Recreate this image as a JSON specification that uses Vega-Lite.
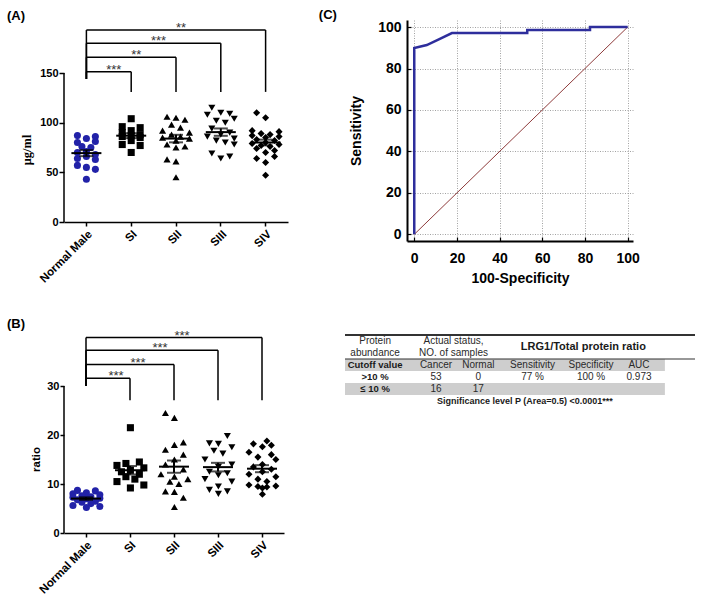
{
  "$schema": "https://vega.github.io/schema/vega-lite/v6.json",
  "padding": {"left": 7, "top": 9, "right": 4, "bottom": 4},
  "background": "white",
  "config": {
    "view": {"stroke": null},
    "font": "Liberation Sans",
    "axis": {"labelColor": "black", "tickColor": "black", "domainColor": "black", "labelFont": "Liberation Sans", "titleFont": "Liberation Sans", "titleColor": "black", "domainWidth": 1.5, "tickWidth": 1.5, "grid": false}
  },
  "datasets": {
    "A": [
      {"g": "Normal Male", "v": 87, "s": -2}, {"g": "Normal Male", "v": 86, "s": 2}, {"g": "Normal Male", "v": 84, "s": 0}, {"g": "Normal Male", "v": 81, "s": 2}, {"g": "Normal Male", "v": 80, "s": -2}, {"g": "Normal Male", "v": 76, "s": -1}, {"g": "Normal Male", "v": 75, "s": 1}, {"g": "Normal Male", "v": 71, "s": 0}, {"g": "Normal Male", "v": 70, "s": -2}, {"g": "Normal Male", "v": 68, "s": 2}, {"g": "Normal Male", "v": 66, "s": 0}, {"g": "Normal Male", "v": 64, "s": -2}, {"g": "Normal Male", "v": 63, "s": 2}, {"g": "Normal Male", "v": 57, "s": -2}, {"g": "Normal Male", "v": 55, "s": 0}, {"g": "Normal Male", "v": 53, "s": 2}, {"g": "Normal Male", "v": 43, "s": 0},
      {"g": "SI", "v": 104, "s": 0}, {"g": "SI", "v": 96, "s": -2}, {"g": "SI", "v": 95, "s": 2}, {"g": "SI", "v": 92, "s": 0}, {"g": "SI", "v": 90, "s": -2}, {"g": "SI", "v": 88, "s": 2}, {"g": "SI", "v": 87, "s": 0}, {"g": "SI", "v": 86, "s": -2}, {"g": "SI", "v": 85, "s": 2}, {"g": "SI", "v": 82, "s": 0}, {"g": "SI", "v": 78, "s": -2}, {"g": "SI", "v": 77, "s": 2}, {"g": "SI", "v": 70, "s": 0},
      {"g": "SII", "v": 106, "s": -2}, {"g": "SII", "v": 105, "s": 0}, {"g": "SII", "v": 103, "s": 2}, {"g": "SII", "v": 98, "s": -1}, {"g": "SII", "v": 95, "s": 1}, {"g": "SII", "v": 92, "s": -3}, {"g": "SII", "v": 90, "s": 3}, {"g": "SII", "v": 88, "s": -1}, {"g": "SII", "v": 86, "s": 1}, {"g": "SII", "v": 85, "s": -3}, {"g": "SII", "v": 84, "s": 3}, {"g": "SII", "v": 82, "s": 0}, {"g": "SII", "v": 78, "s": -2}, {"g": "SII", "v": 76, "s": 2}, {"g": "SII", "v": 75, "s": 0}, {"g": "SII", "v": 63, "s": -2}, {"g": "SII", "v": 61, "s": 0}, {"g": "SII", "v": 45, "s": 0},
      {"g": "SIII", "v": 115, "s": -2}, {"g": "SIII", "v": 110, "s": 0}, {"g": "SIII", "v": 109, "s": 2}, {"g": "SIII", "v": 108, "s": -3}, {"g": "SIII", "v": 104, "s": 3}, {"g": "SIII", "v": 102, "s": -1}, {"g": "SIII", "v": 100, "s": 1}, {"g": "SIII", "v": 94, "s": -2}, {"g": "SIII", "v": 90, "s": 2}, {"g": "SIII", "v": 88, "s": 0}, {"g": "SIII", "v": 86, "s": -3}, {"g": "SIII", "v": 84, "s": 3}, {"g": "SIII", "v": 82, "s": -1}, {"g": "SIII", "v": 80, "s": 1}, {"g": "SIII", "v": 78, "s": 3}, {"g": "SIII", "v": 69, "s": -2}, {"g": "SIII", "v": 66, "s": 2}, {"g": "SIII", "v": 64, "s": 0},
      {"g": "SIV", "v": 110, "s": -2}, {"g": "SIV", "v": 105, "s": 0}, {"g": "SIV", "v": 92, "s": -3}, {"g": "SIV", "v": 91, "s": 3}, {"g": "SIV", "v": 89, "s": -1}, {"g": "SIV", "v": 88, "s": 1}, {"g": "SIV", "v": 87, "s": -3}, {"g": "SIV", "v": 86, "s": 3}, {"g": "SIV", "v": 85, "s": 0}, {"g": "SIV", "v": 83, "s": -2}, {"g": "SIV", "v": 82, "s": 2}, {"g": "SIV", "v": 80, "s": 0}, {"g": "SIV", "v": 79, "s": -3}, {"g": "SIV", "v": 78, "s": 3}, {"g": "SIV", "v": 77, "s": -1}, {"g": "SIV", "v": 76, "s": 1}, {"g": "SIV", "v": 74, "s": -2}, {"g": "SIV", "v": 72, "s": 2}, {"g": "SIV", "v": 70, "s": 0}, {"g": "SIV", "v": 66, "s": 2}, {"g": "SIV", "v": 64, "s": -2}, {"g": "SIV", "v": 60, "s": 0}, {"g": "SIV", "v": 47, "s": 0}
    ],
    "B": [
      {"g": "Normal Male", "v": 8.7, "s": -2}, {"g": "Normal Male", "v": 8.6, "s": 2}, {"g": "Normal Male", "v": 8.2, "s": 0}, {"g": "Normal Male", "v": 8.0, "s": -3}, {"g": "Normal Male", "v": 7.8, "s": 3}, {"g": "Normal Male", "v": 7.6, "s": -1}, {"g": "Normal Male", "v": 7.4, "s": 1}, {"g": "Normal Male", "v": 7.3, "s": -3}, {"g": "Normal Male", "v": 7.1, "s": 3}, {"g": "Normal Male", "v": 7.0, "s": 0}, {"g": "Normal Male", "v": 6.8, "s": -2}, {"g": "Normal Male", "v": 6.5, "s": 2}, {"g": "Normal Male", "v": 6.3, "s": -1}, {"g": "Normal Male", "v": 6.0, "s": 1}, {"g": "Normal Male", "v": 5.6, "s": -3}, {"g": "Normal Male", "v": 5.4, "s": 3}, {"g": "Normal Male", "v": 5.2, "s": 0},
      {"g": "SI", "v": 21.5, "s": 0}, {"g": "SI", "v": 14.5, "s": 2}, {"g": "SI", "v": 14.2, "s": -1}, {"g": "SI", "v": 13.8, "s": -3}, {"g": "SI", "v": 13.3, "s": 3}, {"g": "SI", "v": 12.8, "s": 0}, {"g": "SI", "v": 12.5, "s": -2}, {"g": "SI", "v": 12.0, "s": 2}, {"g": "SI", "v": 11.5, "s": -1}, {"g": "SI", "v": 11.0, "s": 1}, {"g": "SI", "v": 10.5, "s": -3}, {"g": "SI", "v": 9.8, "s": 3}, {"g": "SI", "v": 9.2, "s": 0},
      {"g": "SII", "v": 24.5, "s": -2}, {"g": "SII", "v": 23.5, "s": 0}, {"g": "SII", "v": 18.5, "s": 2}, {"g": "SII", "v": 18.0, "s": 0}, {"g": "SII", "v": 17.0, "s": -2}, {"g": "SII", "v": 16.0, "s": 2}, {"g": "SII", "v": 15.0, "s": 0}, {"g": "SII", "v": 14.0, "s": -2}, {"g": "SII", "v": 13.0, "s": 2}, {"g": "SII", "v": 12.0, "s": -3}, {"g": "SII", "v": 11.5, "s": 0}, {"g": "SII", "v": 11.0, "s": 3}, {"g": "SII", "v": 10.5, "s": -1}, {"g": "SII", "v": 10.0, "s": 1}, {"g": "SII", "v": 8.5, "s": -2}, {"g": "SII", "v": 8.4, "s": 0}, {"g": "SII", "v": 7.2, "s": 2}, {"g": "SII", "v": 5.3, "s": 0},
      {"g": "SIII", "v": 19.8, "s": 2}, {"g": "SIII", "v": 18.3, "s": -2}, {"g": "SIII", "v": 18.2, "s": 0}, {"g": "SIII", "v": 17.5, "s": 3}, {"g": "SIII", "v": 16.8, "s": -1}, {"g": "SIII", "v": 16.2, "s": 1}, {"g": "SIII", "v": 15.0, "s": -3}, {"g": "SIII", "v": 14.0, "s": 3}, {"g": "SIII", "v": 13.5, "s": 0}, {"g": "SIII", "v": 12.5, "s": -2}, {"g": "SIII", "v": 12.2, "s": 2}, {"g": "SIII", "v": 11.8, "s": 0}, {"g": "SIII", "v": 11.0, "s": -3}, {"g": "SIII", "v": 10.5, "s": 3}, {"g": "SIII", "v": 9.5, "s": 0}, {"g": "SIII", "v": 8.8, "s": -2}, {"g": "SIII", "v": 8.5, "s": 2}, {"g": "SIII", "v": 8.0, "s": 0},
      {"g": "SIV", "v": 18.8, "s": 1}, {"g": "SIV", "v": 18.2, "s": -2}, {"g": "SIV", "v": 17.9, "s": 2}, {"g": "SIV", "v": 17.6, "s": 0}, {"g": "SIV", "v": 16.5, "s": -3}, {"g": "SIV", "v": 16.0, "s": 2}, {"g": "SIV", "v": 15.5, "s": -1}, {"g": "SIV", "v": 15.0, "s": 3}, {"g": "SIV", "v": 14.0, "s": 0}, {"g": "SIV", "v": 13.5, "s": -2}, {"g": "SIV", "v": 13.0, "s": 2}, {"g": "SIV", "v": 12.5, "s": 0}, {"g": "SIV", "v": 12.0, "s": -3}, {"g": "SIV", "v": 11.5, "s": 3}, {"g": "SIV", "v": 11.0, "s": -1}, {"g": "SIV", "v": 10.5, "s": 1}, {"g": "SIV", "v": 9.8, "s": -3}, {"g": "SIV", "v": 9.6, "s": 3}, {"g": "SIV", "v": 9.5, "s": -1}, {"g": "SIV", "v": 9.4, "s": 1}, {"g": "SIV", "v": 9.2, "s": 0}, {"g": "SIV", "v": 7.9, "s": 0}
    ],
    "brA": [
      {"from": 0, "to": 1, "y": 151.3, "st": "***"},
      {"from": 0, "to": 2, "y": 165.8, "st": "**"},
      {"from": 0, "to": 3, "y": 179.9, "st": "***"},
      {"from": 0, "to": 4, "y": 193.3, "st": "**"}
    ],
    "brB": [
      {"from": 0, "to": 1, "y": 31.6, "st": "***"},
      {"from": 0, "to": 2, "y": 34.4, "st": "***"},
      {"from": 0, "to": 3, "y": 37.3, "st": "***"},
      {"from": 0, "to": 4, "y": 39.9, "st": "***"}
    ],
    "roc": [
      {"i": 0, "fpr": 0, "se": 0}, {"i": 1, "fpr": 0, "se": 89.9}, {"i": 2, "fpr": 5.88, "se": 91.3}, {"i": 3, "fpr": 11.76, "se": 94.2}, {"i": 4, "fpr": 17.65, "se": 97.1}, {"i": 5, "fpr": 52.94, "se": 97.1}, {"i": 6, "fpr": 52.94, "se": 98.6}, {"i": 7, "fpr": 82.35, "se": 98.6}, {"i": 8, "fpr": 82.35, "se": 100}, {"i": 9, "fpr": 100, "se": 100}
    ],
    "diag": [{"fpr": 0, "se": 0}, {"fpr": 100, "se": 100}],
    "cells": [
      {"row": "h1", "cx": 8.6, "t": "Protein", "k": "r"},
      {"row": "h2", "cx": 8.6, "t": "abundance", "k": "r"},
      {"row": "h1", "cx": 31, "t": "Actual status,", "k": "r"},
      {"row": "h2", "cx": 31, "t": "NO. of samples", "k": "r"},
      {"row": "h1", "cx": 68.1, "t": "LRG1/Total protein ratio", "k": "t"},
      {"row": "cut", "cx": 8.6, "t": "Cutoff value", "k": "b"},
      {"row": "cut", "cx": 26, "t": "Cancer", "k": "r"},
      {"row": "cut", "cx": 38.1, "t": "Normal", "k": "r"},
      {"row": "cut", "cx": 53.6, "t": "Sensitivity", "k": "r"},
      {"row": "cut", "cx": 70.3, "t": "Specificity", "k": "r"},
      {"row": "cut", "cx": 84, "t": "AUC", "k": "r"},
      {"row": "gt", "cx": 8.6, "t": ">10 %", "k": "b"},
      {"row": "gt", "cx": 26, "t": "53", "k": "r"},
      {"row": "gt", "cx": 38.1, "t": "0", "k": "r"},
      {"row": "gt", "cx": 53.6, "t": "77 %", "k": "r"},
      {"row": "gt", "cx": 70.3, "t": "100 %", "k": "r"},
      {"row": "gt", "cx": 84, "t": "0.973", "k": "r"},
      {"row": "le", "cx": 8.6, "t": "≤ 10 %", "k": "b"},
      {"row": "le", "cx": 26, "t": "16", "k": "r"},
      {"row": "le", "cx": 38.1, "t": "17", "k": "r"},
      {"row": "sig", "cx": 51.4, "t": "Significance level P (Area=0.5) <0.0001***", "k": "s"}
    ],
    "tbands": [{"row": "cut"}, {"row": "le"}]
  },
  "spacing": 32,
  "vconcat": [
    {
      "bounds": "flush",
      "spacing": 119,
      "hconcat": [
        {
          "width": 224,
          "height": 202,
          "layer": [
            {
              "layer": [
                {
                  "data": {"name": "A"},
                  "mark": {"type": "point", "filled": true, "size": 50, "opacity": 1},
                  "encoding": {
                    "x": {"field": "g", "type": "nominal", "sort": null, "title": null, "scale": {"type": "band", "domain": ["Normal Male", "SI", "SII", "SIII", "SIV"], "paddingInner": 0, "paddingOuter": 0}, "axis": {"labelAngle": -45, "labelFontSize": 11.5, "labelFontWeight": "bold", "labelPadding": 2, "tickSize": 4}},
                    "xOffset": {"field": "s", "type": "quantitative", "scale": {"domain": [-5, 5]}},
                    "y": {"field": "v", "type": "quantitative", "title": null, "scale": {"domain": [0, 203.4], "nice": false, "zero": false}, "axis": {"values": [0, 50, 100, 150], "domain": false, "tickSize": 5, "labelPadding": 1, "labelFontSize": 11, "labelFontWeight": "bold"}},
                    "shape": {"field": "g", "type": "nominal", "scale": {"domain": ["Normal Male", "SI", "SII", "SIII", "SIV"], "range": ["circle", "square", "triangle-up", "triangle-down", "diamond"]}, "legend": null},
                    "color": {"field": "g", "type": "nominal", "scale": {"domain": ["Normal Male", "SI", "SII", "SIII", "SIV"], "range": ["#2222a8", "#000000", "#000000", "#000000", "#000000"]}, "legend": null}
                  }
                },
                {
                  "data": {"name": "A"},
                  "mark": {"type": "tick", "size": 30, "thickness": 2, "color": "black"},
                  "encoding": {
                    "x": {"field": "g", "type": "nominal", "sort": null, "title": null},
                    "y": {"aggregate": "mean", "field": "v", "type": "quantitative", "title": null, "scale": {"domain": [0, 203.4], "nice": false, "zero": false}}
                  }
                },
                {
                  "data": {"name": "A"},
                  "mark": {"type": "errorbar", "extent": "stderr", "ticks": true, "size": 14, "thickness": 2, "color": "black"},
                  "encoding": {
                    "x": {"field": "g", "type": "nominal", "sort": null, "title": null},
                    "y": {"field": "v", "type": "quantitative", "title": null, "scale": {"domain": [0, 203.4], "nice": false, "zero": false}}
                  }
                }
              ]
            },
            {
              "layer": [
                {
                  "data": {"name": "brA"},
                  "mark": {"type": "rule", "strokeWidth": 1.5, "color": "black"},
                  "encoding": {
                    "x": {"field": "from", "type": "quantitative", "scale": {"domain": [-0.5, 4.5], "nice": false, "zero": false}, "axis": null},
                    "x2": {"field": "to"},
                    "y": {"field": "y", "type": "quantitative", "title": null, "scale": {"domain": [0, 203.4], "nice": false, "zero": false}}
                  }
                },
                {
                  "data": {"name": "brA"},
                  "mark": {"type": "rule", "strokeWidth": 1.5, "color": "black"},
                  "encoding": {
                    "x": {"field": "to", "type": "quantitative", "axis": null},
                    "y": {"field": "y", "type": "quantitative", "title": null},
                    "y2": {"datum": 131}
                  }
                },
                {
                  "data": {"name": "brA"},
                  "mark": {"type": "rule", "strokeWidth": 1.5, "color": "black"},
                  "encoding": {
                    "x": {"field": "from", "type": "quantitative", "axis": null},
                    "y": {"field": "y", "type": "quantitative", "title": null},
                    "y2": {"datum": 144}
                  }
                },
                {
                  "data": {"name": "brA"},
                  "transform": [{"calculate": "(datum.from + datum.to) / 2", "as": "mid"}],
                  "mark": {"type": "text", "fontSize": 13, "color": "#333", "baseline": "alphabetic", "dx": 5, "dy": 2},
                  "encoding": {
                    "x": {"field": "mid", "type": "quantitative", "axis": null},
                    "y": {"field": "y", "type": "quantitative", "title": null},
                    "text": {"field": "st"}
                  }
                },
                {
                  "data": {"values": [{}]},
                  "mark": {"type": "rule", "strokeWidth": 1.5, "color": "black"},
                  "encoding": {
                    "x": {"datum": -0.5, "type": "quantitative", "axis": null},
                    "y": {"datum": 0, "type": "quantitative", "title": null},
                    "y2": {"datum": 150}
                  }
                },
                {
                  "data": {"values": [{}]},
                  "mark": {"type": "text", "fontSize": 13, "fontWeight": "bold", "align": "left", "baseline": "middle", "color": "black", "text": "(A)"},
                  "encoding": {
                    "x": {"datum": -1.772, "type": "quantitative", "axis": null},
                    "y": {"datum": 207.4, "type": "quantitative", "title": null}
                  }
                },
                {
                  "data": {"values": [{}]},
                  "mark": {"type": "text", "fontSize": 12.5, "fontWeight": "bold", "font": "Liberation Serif", "align": "center", "baseline": "middle", "angle": 270, "color": "black", "text": "μg/ml"},
                  "encoding": {
                    "x": {"datum": -1.33, "type": "quantitative", "axis": null},
                    "y": {"datum": 72.5, "type": "quantitative", "title": null}
                  }
                }
              ]
            }
          ],
          "resolve": {"scale": {"x": "independent"}, "axis": {"x": "independent"}}
        },
        {
          "width": 226,
          "height": 221,
          "layer": [
            {
              "data": {"name": "diag"},
              "mark": {"type": "line", "color": "#8e3b3b", "strokeWidth": 1},
              "encoding": {
                "x": {"field": "fpr", "type": "quantitative", "scale": {"domain": [-3.4, 102.5], "nice": false, "zero": false},
                  "axis": {"title": "100-Specificity", "values": [0, 5, 10, 15, 20, 25, 30, 35, 40, 45, 50, 55, 60, 65, 70, 75, 80, 85, 90, 95, 100], "labelExpr": "datum.value % 20 === 0 ? datum.label : ''", "grid": true, "gridColor": "#8a8a8a", "gridDash": [1, 1.5], "gridWidth": 0.8, "gridOpacity": {"condition": {"test": "datum.value % 20 === 0", "value": 1}, "value": 0}, "tickSize": -4, "tickWidth": 1.2, "domainWidth": 2, "labelFontSize": 14, "labelFontWeight": "bold", "labelPadding": 14, "titleFontSize": 14, "titleFontWeight": "bold", "titlePadding": 6}},
                "y": {"field": "se", "type": "quantitative", "scale": {"domain": [-3.2, 103.4], "nice": false, "zero": false},
                  "axis": {"title": "Sensitivity", "values": [0, 5, 10, 15, 20, 25, 30, 35, 40, 45, 50, 55, 60, 65, 70, 75, 80, 85, 90, 95, 100], "labelExpr": "datum.value % 20 === 0 ? datum.label : ''", "grid": true, "gridColor": "#8a8a8a", "gridDash": [1, 1.5], "gridWidth": 0.8, "gridOpacity": {"condition": {"test": "datum.value % 20 === 0", "value": 1}, "value": 0}, "tickSize": -4, "tickWidth": 1.2, "domainWidth": 2, "labelFontSize": 14, "labelFontWeight": "bold", "labelPadding": 10, "titleFontSize": 14, "titleFontWeight": "bold", "titlePadding": 14}}
              }
            },
            {
              "data": {"name": "roc"},
              "mark": {"type": "line", "color": "#2e2e9c", "strokeWidth": 2.5},
              "encoding": {
                "x": {"field": "fpr", "type": "quantitative"},
                "y": {"field": "se", "type": "quantitative"},
                "order": {"field": "i", "type": "quantitative"}
              }
            },
            {
              "data": {"values": [{}]},
              "mark": {"type": "text", "fontSize": 13, "fontWeight": "bold", "align": "center", "baseline": "middle", "color": "black", "text": "(C)"},
              "encoding": {
                "x": {"datum": -40.5, "type": "quantitative"},
                "y": {"datum": 105.7, "type": "quantitative"}
              }
            }
          ]
        }
      ]
    },
    {
      "bounds": "flush",
      "spacing": 61,
      "hconcat": [
        {
          "width": 220,
          "height": 198,
          "layer": [
            {
              "layer": [
                {
                  "data": {"name": "B"},
                  "mark": {"type": "point", "filled": true, "size": 50, "opacity": 1},
                  "encoding": {
                    "x": {"field": "g", "type": "nominal", "sort": null, "title": null, "scale": {"type": "band", "domain": ["Normal Male", "SI", "SII", "SIII", "SIV"], "paddingInner": 0, "paddingOuter": 0}, "axis": {"labelAngle": -45, "labelFontSize": 11.5, "labelFontWeight": "bold", "labelPadding": 2, "tickSize": 4}},
                    "xOffset": {"field": "s", "type": "quantitative", "scale": {"domain": [-5, 5]}},
                    "y": {"field": "v", "type": "quantitative", "title": null, "scale": {"domain": [0, 40.43], "nice": false, "zero": false}, "axis": {"values": [0, 10, 20, 30], "domain": false, "tickSize": 4, "labelPadding": 1, "labelFontSize": 11, "labelFontWeight": "bold"}},
                    "shape": {"field": "g", "type": "nominal", "scale": {"domain": ["Normal Male", "SI", "SII", "SIII", "SIV"], "range": ["circle", "square", "triangle-up", "triangle-down", "diamond"]}, "legend": null},
                    "color": {"field": "g", "type": "nominal", "scale": {"domain": ["Normal Male", "SI", "SII", "SIII", "SIV"], "range": ["#2222a8", "#000000", "#000000", "#000000", "#000000"]}, "legend": null}
                  }
                },
                {
                  "data": {"name": "B"},
                  "mark": {"type": "tick", "size": 30, "thickness": 2, "color": "black"},
                  "encoding": {
                    "x": {"field": "g", "type": "nominal", "sort": null, "title": null},
                    "y": {"aggregate": "mean", "field": "v", "type": "quantitative", "title": null, "scale": {"domain": [0, 40.43], "nice": false, "zero": false}}
                  }
                },
                {
                  "data": {"name": "B"},
                  "mark": {"type": "errorbar", "extent": "stderr", "ticks": true, "size": 14, "thickness": 2, "color": "black"},
                  "encoding": {
                    "x": {"field": "g", "type": "nominal", "sort": null, "title": null},
                    "y": {"field": "v", "type": "quantitative", "title": null, "scale": {"domain": [0, 40.43], "nice": false, "zero": false}}
                  }
                }
              ]
            },
            {
              "layer": [
                {
                  "data": {"name": "brB"},
                  "mark": {"type": "rule", "strokeWidth": 1.5, "color": "black"},
                  "encoding": {
                    "x": {"field": "from", "type": "quantitative", "scale": {"domain": [-0.5, 4.5], "nice": false, "zero": false}, "axis": null},
                    "x2": {"field": "to"},
                    "y": {"field": "y", "type": "quantitative", "title": null, "scale": {"domain": [0, 40.43], "nice": false, "zero": false}}
                  }
                },
                {
                  "data": {"name": "brB"},
                  "mark": {"type": "rule", "strokeWidth": 1.5, "color": "black"},
                  "encoding": {
                    "x": {"field": "to", "type": "quantitative", "axis": null},
                    "y": {"field": "y", "type": "quantitative", "title": null},
                    "y2": {"datum": 27.1}
                  }
                },
                {
                  "data": {"name": "brB"},
                  "mark": {"type": "rule", "strokeWidth": 1.5, "color": "black"},
                  "encoding": {
                    "x": {"field": "from", "type": "quantitative", "axis": null},
                    "y": {"field": "y", "type": "quantitative", "title": null},
                    "y2": {"datum": 30}
                  }
                },
                {
                  "data": {"name": "brB"},
                  "transform": [{"calculate": "(datum.from + datum.to) / 2", "as": "mid"}],
                  "mark": {"type": "text", "fontSize": 13, "color": "#333", "baseline": "alphabetic", "dx": 8, "dy": 2},
                  "encoding": {
                    "x": {"field": "mid", "type": "quantitative", "axis": null},
                    "y": {"field": "y", "type": "quantitative", "title": null},
                    "text": {"field": "st"}
                  }
                },
                {
                  "data": {"values": [{}]},
                  "mark": {"type": "rule", "strokeWidth": 1.5, "color": "black"},
                  "encoding": {
                    "x": {"datum": -0.5, "type": "quantitative", "axis": null},
                    "y": {"datum": 0, "type": "quantitative", "title": null},
                    "y2": {"datum": 30}
                  }
                },
                {
                  "data": {"values": [{}]},
                  "mark": {"type": "text", "fontSize": 13, "fontWeight": "bold", "align": "left", "baseline": "middle", "color": "black", "text": "(B)"},
                  "encoding": {
                    "x": {"datum": -1.795, "type": "quantitative", "axis": null},
                    "y": {"datum": 42.7, "type": "quantitative", "title": null}
                  }
                },
                {
                  "data": {"values": [{}]},
                  "mark": {"type": "text", "fontSize": 11.5, "fontWeight": "bold", "align": "center", "baseline": "middle", "angle": 270, "color": "black", "text": "ratio"},
                  "encoding": {
                    "x": {"datum": -1.11, "type": "quantitative", "axis": null},
                    "y": {"datum": 15, "type": "quantitative", "title": null}
                  }
                }
              ]
            }
          ],
          "resolve": {"scale": {"x": "independent"}, "axis": {"x": "independent"}}
        },
        {
          "width": 350,
          "height": 72,
          "layer": [
            {
              "data": {"name": "tbands"},
              "mark": {"type": "rect", "color": "#cecece"},
              "encoding": {
                "y": {"field": "row", "type": "nominal", "scale": {"domain": ["h1", "h2", "cut", "gt", "le", "sig"], "paddingInner": 0, "paddingOuter": 0}, "axis": null},
                "x": {"datum": 0, "type": "quantitative", "scale": {"domain": [0, 100], "nice": false, "zero": false}, "axis": null},
                "x2": {"datum": 91.4}
              }
            },
            {
              "data": {"values": [{"row": "h1"}]},
              "mark": {"type": "rule", "strokeWidth": 2, "color": "#333333"},
              "encoding": {"y": {"field": "row", "type": "nominal", "bandPosition": 0, "axis": null}}
            },
            {
              "data": {"values": [{"row": "cut"}]},
              "mark": {"type": "rule", "strokeWidth": 1.2, "color": "#333333"},
              "encoding": {"y": {"field": "row", "type": "nominal", "bandPosition": 0, "axis": null}}
            },
            {
              "data": {"name": "cells"},
              "transform": [{"filter": "datum.k === 'r'"}],
              "mark": {"type": "text", "fontSize": 10, "color": "#2a2a2a", "baseline": "middle", "align": "center"},
              "encoding": {
                "y": {"field": "row", "type": "nominal", "axis": null},
                "x": {"field": "cx", "type": "quantitative", "axis": null},
                "text": {"field": "t"}
              }
            },
            {
              "data": {"name": "cells"},
              "transform": [{"filter": "datum.k === 'b'"}],
              "mark": {"type": "text", "fontSize": 9.5, "fontWeight": "bold", "color": "#1a1a1a", "baseline": "middle", "align": "center"},
              "encoding": {
                "y": {"field": "row", "type": "nominal", "axis": null},
                "x": {"field": "cx", "type": "quantitative", "axis": null},
                "text": {"field": "t"}
              }
            },
            {
              "data": {"name": "cells"},
              "transform": [{"filter": "datum.k === 's'"}],
              "mark": {"type": "text", "fontSize": 9, "fontWeight": "bold", "color": "#1a1a1a", "baseline": "middle", "align": "center"},
              "encoding": {
                "y": {"field": "row", "type": "nominal", "axis": null},
                "x": {"field": "cx", "type": "quantitative", "axis": null},
                "text": {"field": "t"}
              }
            },
            {
              "data": {"name": "cells"},
              "transform": [{"filter": "datum.k === 't'"}],
              "mark": {"type": "text", "fontSize": 11, "fontWeight": "bold", "color": "#1a1a1a", "baseline": "middle", "align": "center"},
              "encoding": {
                "y": {"field": "row", "type": "nominal", "bandPosition": 1, "axis": null},
                "x": {"field": "cx", "type": "quantitative", "axis": null},
                "text": {"field": "t"}
              }
            }
          ]
        }
      ]
    }
  ]
}
